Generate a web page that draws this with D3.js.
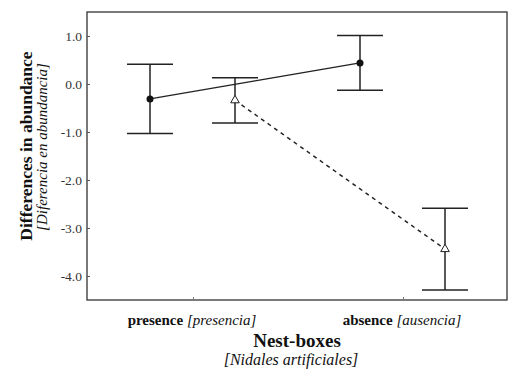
<!DOCTYPE html>
<html><head><meta charset="utf-8">
<script src="https://cdn.jsdelivr.net/npm/d3@7"></script>
<style>body{margin:0;background:#fff}svg{display:block}</style>
</head><body><svg id="c" width="510" height="375"></svg>
<script>
const categories = ["presence", "absence"];
const categoriesEs = ["[presencia]", "[ausencia]"];
const circleMean = [-0.31, 0.44];
const circleErr = [0.72, 0.57];
const triMean = [-0.34, -3.44];
const triErr = [0.47, 0.85];
const yTicks = [1, 0, -1, -2, -3, -4];

const FONT = "Liberation Serif";
const svg = d3.select("#c");
const L = 87, T = 12, R = 507, B = 300;
const x = d3.scalePoint().domain(categories).range([193, 403]);
const y = d3.scaleLinear().domain([-4.5, 1.5]).range([B, T]);
const off = {circle: -43, tri: 42};
const cap = 23;
const ink = "#222";

// frame
svg.append("rect").attr("x", L).attr("y", T).attr("width", R - L).attr("height", B - T)
  .attr("fill", "none").attr("stroke", "#333").attr("stroke-width", 1.3);

// y axis
const ya = svg.append("g").attr("transform", `translate(${L},0)`)
  .call(d3.axisRight(y).tickValues(yTicks).tickSize(3).tickFormat(d => d.toFixed(1)));
ya.attr("font-family", FONT).attr("font-size", 13.5);
ya.select(".domain").remove();
ya.selectAll("line").attr("stroke", "#555");
ya.selectAll("text").attr("x", -5).attr("text-anchor", "end").attr("fill", "#333");

// x axis ticks
const xa = svg.append("g").attr("transform", `translate(0,${B})`)
  .call(d3.axisTop(x).tickSize(3).tickFormat(""));
xa.select(".domain").remove();
xa.selectAll("line").attr("stroke", "#777");

function txt() { return svg.append("text").attr("font-family", FONT).attr("fill", "#111"); }

// category labels
categories.forEach((c, i) => {
  const t = txt().attr("x", x(c) - 1).attr("y", 325).attr("text-anchor", "middle").attr("font-size", 15);
  t.append("tspan").attr("font-weight", "bold").text(c);
  t.append("tspan").attr("font-style", "italic").text(" " + categoriesEs[i]);
});

// axis titles
txt().attr("x", 297).attr("y", 347).attr("text-anchor", "middle")
  .attr("font-size", 19).attr("font-weight", "bold").text("Nest-boxes");
txt().attr("x", 291).attr("y", 365).attr("text-anchor", "middle")
  .attr("font-size", 16).attr("font-style", "italic").text("[Nidales artificiales]");
txt().attr("transform", "translate(32,146) rotate(-90)").attr("text-anchor", "middle")
  .attr("font-size", 17.5).attr("font-weight", "bold").text("Differences in abundance");
txt().attr("transform", "translate(47,147) rotate(-90)").attr("text-anchor", "middle")
  .attr("font-size", 15).attr("font-style", "italic").text("[Diferencia en abundancia]");

function errorBars(means, errs, o) {
  const g = svg.append("g").attr("stroke", ink).attr("stroke-width", 1.5);
  categories.forEach((c, i) => {
    const cx = x(c) + o, top = y(means[i] + errs[i]), bot = y(means[i] - errs[i]);
    g.append("line").attr("x1", cx).attr("x2", cx).attr("y1", top).attr("y2", bot);
    g.append("line").attr("x1", cx - cap).attr("x2", cx + cap).attr("y1", top).attr("y2", top);
    g.append("line").attr("x1", cx - cap).attr("x2", cx + cap).attr("y1", bot).attr("y2", bot);
  });
}
errorBars(circleMean, circleErr, off.circle);
errorBars(triMean, triErr, off.tri);

const line = d3.line();
svg.append("path").attr("d", line(categories.map((c, i) => [x(c) + off.circle, y(circleMean[i])])))
  .attr("fill", "none").attr("stroke", ink).attr("stroke-width", 1.5);
svg.append("path").attr("d", line(categories.map((c, i) => [x(c) + off.tri, y(triMean[i])])))
  .attr("fill", "none").attr("stroke", ink).attr("stroke-width", 1.5).attr("stroke-dasharray", "4,4");

svg.selectAll(".dot").data(circleMean).enter().append("circle")
  .attr("cx", (d, i) => x(categories[i]) + off.circle).attr("cy", d => y(d)).attr("r", 3.5).attr("fill", "#111");
const tri = d3.symbol().type(d3.symbolTriangle).size(32);
svg.selectAll(".tri").data(triMean).enter().append("path").attr("d", tri)
  .attr("transform", (d, i) => `translate(${x(categories[i]) + off.tri},${y(d)})`)
  .attr("fill", "#fff").attr("stroke", ink).attr("stroke-width", 1);
</script></body></html>
